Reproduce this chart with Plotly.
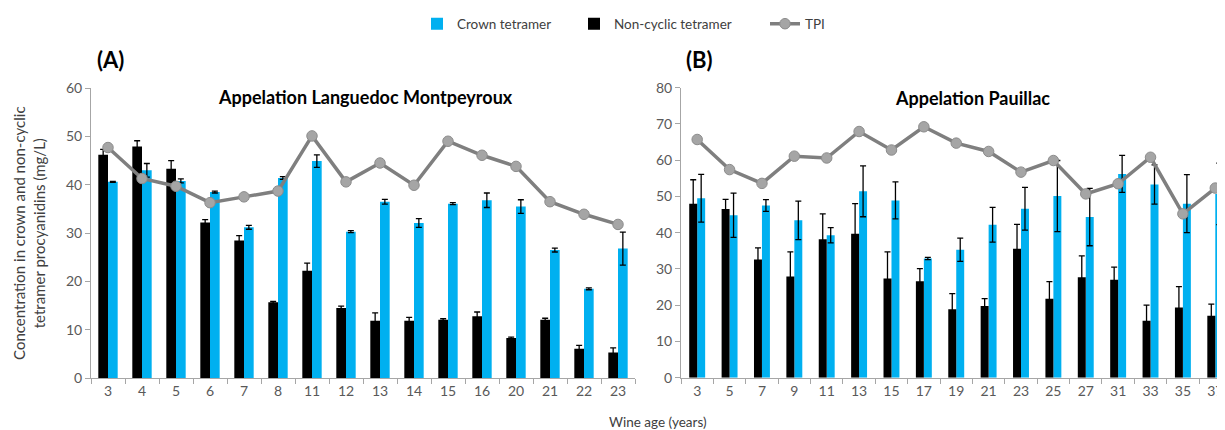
import plotly.graph_objects as go

# ---------------- data ----------------
ages_a = ["3", "4", "5", "6", "7", "8", "11", "12", "13", "14", "15", "16", "20", "21", "22", "23"]
crown_a = [40.6, 43.0, 40.8, 38.5, 31.2, 41.4, 44.9, 30.3, 36.5, 32.1, 36.1, 36.8, 35.5, 26.5, 18.5, 26.8]
crown_a_err = [0.1, 1.4, 0.4, 0.2, 0.4, 0.3, 1.3, 0.2, 0.5, 0.9, 0.2, 1.5, 1.4, 0.4, 0.2, 3.4]
noncyc_a = [46.2, 47.9, 43.3, 32.2, 28.5, 15.7, 22.2, 14.5, 11.9, 11.9, 12.1, 12.8, 8.3, 12.1, 6.1, 5.3]
noncyc_a_err = [1.1, 1.2, 1.7, 0.6, 1.0, 0.2, 1.6, 0.4, 1.6, 0.7, 0.2, 0.9, 0.2, 0.3, 0.7, 1.0]
tpi_a = [47.7, 41.3, 39.7, 36.3, 37.5, 38.7, 50.1, 40.6, 44.5, 39.9, 49.0, 46.1, 43.8, 36.5, 33.9, 31.8]

ages_b = ["3", "5", "7", "9", "11", "13", "15", "17", "19", "21", "23", "25", "27", "31", "33", "35", "37"]
crown_b = [49.5, 44.8, 47.5, 43.4, 39.3, 51.4, 48.9, 32.9, 35.3, 42.2, 46.6, 50.1, 44.3, 56.2, 53.3, 48.0, 50.7]
crown_b_err = [6.6, 6.1, 1.6, 5.3, 2.1, 7.0, 5.1, 0.3, 3.2, 4.8, 5.9, 9.8, 7.9, 5.1, 5.4, 8.0, 8.5]
noncyc_b = [48.0, 46.5, 32.6, 27.9, 38.2, 39.7, 27.4, 26.6, 18.9, 19.8, 35.6, 21.8, 27.7, 27.0, 15.7, 19.4, 17.1]
noncyc_b_err = [6.6, 2.7, 3.2, 6.8, 7.0, 8.3, 7.3, 3.5, 4.3, 2.0, 6.7, 4.7, 5.9, 3.5, 4.3, 5.7, 3.2]
tpi_b = [65.7, 57.4, 53.6, 61.1, 60.6, 67.9, 62.8, 69.2, 64.7, 62.4, 56.7, 59.9, 50.7, 53.5, 60.8, 45.2, 52.3]

# ---------------- style ----------------
BLUE = "#00B0F0"
BLACK = "#000000"
GREY_LINE = "#7F7F7F"
GREY_MARK = "#A5A5A5"
FONT = "Lato, 'Open Sans', sans-serif"
TICK_COL = "#595959"
AXIS_COL = "#A6A6A6"

# the page body has an 8px margin: lay the figure out so it fills the window
OFF = 8
W, H = 1225 - OFF, 430 - OFF


def xp(px):
    return (px - OFF) / W


def yp(py):
    return (H - (py - OFF)) / H


fig = go.Figure()


def add_panel(ages, crown, crown_err, noncyc, noncyc_err, tpi, xa, ya, w, show):
    err_style = dict(type="data", thickness=1.3, width=3, color="#000000")
    fig.add_trace(go.Bar(
        x=ages, y=crown, name="Crown tetramer", marker=dict(color=BLUE, line=dict(width=0)),
        width=w, offset=0, xaxis=xa, yaxis=ya, showlegend=show, legend="legend",
        error_y=dict(array=crown_err, **err_style)))
    fig.add_trace(go.Bar(
        x=ages, y=noncyc, name="Non-cyclic tetramer", marker=dict(color=BLACK, line=dict(width=0)),
        width=w, offset=-w, xaxis=xa, yaxis=ya, showlegend=show, legend="legend2",
        error_y=dict(array=noncyc_err, **err_style)))
    fig.add_trace(go.Scatter(
        x=ages, y=tpi, name="TPI", mode="lines+markers",
        line=dict(color=GREY_LINE, width=3.5),
        marker=dict(color=GREY_MARK, size=10.5, line=dict(color="#8C8C8C", width=1)),
        xaxis=xa, yaxis=ya, showlegend=show, legend="legend3"))


add_panel(ages_a, crown_a, crown_a_err, noncyc_a, noncyc_a_err, tpi_a, "x", "y", 0.285, True)
add_panel(ages_b, crown_b, crown_b_err, noncyc_b, noncyc_b_err, tpi_b, "x2", "y2", 0.246, False)

xcommon = dict(type="category", showline=True, linecolor=AXIS_COL, linewidth=1,
               ticks="outside", tickson="boundaries", ticklen=5, tickcolor=AXIS_COL,
               tickfont=dict(family=FONT, size=14, color=TICK_COL), showgrid=False,
               zeroline=False, automargin=False)
ycommon = dict(showline=True, linecolor=AXIS_COL, linewidth=1, ticks="outside",
               ticklen=5, tickcolor=AXIS_COL, tickfont=dict(family=FONT, size=14, color=TICK_COL),
               showgrid=False, zeroline=False, dtick=10, automargin=False)


def leg(x_px):
    return dict(orientation="h", x=xp(x_px), xanchor="left", y=yp(22), yanchor="middle",
                font=dict(family=FONT, size=13.5, color="#404040"), bgcolor="rgba(0,0,0,0)",
                borderwidth=0, itemwidth=30)


fig.update_layout(
    template="none",
    width=W, height=H,
    margin=dict(l=0, r=0, t=0, b=0, pad=0),
    paper_bgcolor="white", plot_bgcolor="white",
    barmode="overlay",
    font=dict(family=FONT, color="#404040"),
    xaxis=dict(domain=[xp(91), xp(635)], anchor="y", range=[-0.5, 15.5], **xcommon),
    yaxis=dict(domain=[yp(378), yp(86.4)], anchor="x", range=[0, 60], **ycommon),
    xaxis2=dict(domain=[xp(681), 1.0], anchor="y2", range=[-0.5, 16.3], **xcommon),
    yaxis2=dict(domain=[yp(377.5), yp(86)], anchor="x2", range=[0, 80], **ycommon),
    legend=leg(417), legend2=leg(574), legend3=leg(765),
    showlegend=True,
)

annots = [
    dict(text="<b>(A)</b>", x=xp(110), y=yp(58), font=dict(size=22, color="#000000")),
    dict(text="<b>(B)</b>", x=xp(699), y=yp(58), font=dict(size=22, color="#000000")),
    dict(text="<b>Appelation Languedoc Montpeyroux</b>", x=xp(365), y=yp(95),
         font=dict(size=18, color="#000000")),
    dict(text="<b>Appelation Pauillac</b>", x=xp(972), y=yp(96),
         font=dict(size=18, color="#000000")),
    dict(text="Concentration in crown and non-cyclic<br>tetramer procyanidins (mg/L)",
         x=xp(29), y=yp(232), textangle=-90, font=dict(size=15, color="#404040")),
    dict(text="Wine age (years)", x=xp(658), y=yp(422),
         font=dict(size=13.5, color="#404040")),
]
for a in annots:
    a.update(xref="paper", yref="paper", showarrow=False, xanchor="center", yanchor="middle")
    a["font"]["family"] = FONT
fig.update_layout(annotations=annots)

fig.write_html("out.html")
